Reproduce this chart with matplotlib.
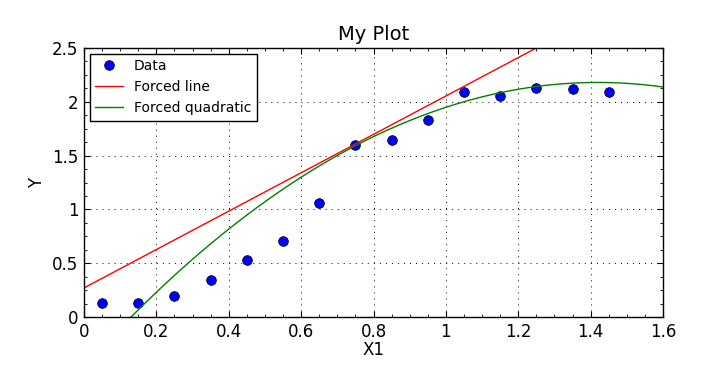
import numpy as np
import matplotlib
matplotlib.use('Agg')
import matplotlib.pyplot as plt
from matplotlib.ticker import MultipleLocator, FormatStrFormatter

# Data
x_data = [0.05, 0.15, 0.25, 0.35, 0.45, 0.55, 0.65, 0.75, 0.85, 0.95, 1.05, 1.15, 1.25, 1.35, 1.45]
y_data = [0.13, 0.13, 0.195, 0.34, 0.53, 0.705, 1.055, 1.60, 1.645, 1.83, 2.09, 2.05, 2.125, 2.115, 2.09]

# Fitted curve coefficients (highest power first), both forced through (0.75, 1.6)
line_coef = [1.784, 0.27]
quad_coef = [-1.31, 3.7204, -0.4615]

x_fit = np.linspace(0, 1.6, 200)

fig = plt.figure(figsize=(7.11, 3.72), dpi=100, facecolor='white')
ax = fig.add_axes([84 / 711, 1 - 317 / 372, (663 - 84) / 711, (317 - 48) / 372])

ax.plot(x_data, y_data, 'o', color='blue', markeredgecolor='black', markeredgewidth=0.5,
        markersize=7, label='Data')
ax.plot(x_fit, np.polyval(line_coef, x_fit), color='red', lw=1, label='Forced line')
ax.plot(x_fit, np.polyval(quad_coef, x_fit), color='green', lw=1, label='Forced quadratic')

ax.set_xlim(0, 1.6)
ax.set_ylim(0, 2.5)
ax.xaxis.set_major_locator(MultipleLocator(0.2))
ax.xaxis.set_minor_locator(MultipleLocator(0.05))
ax.yaxis.set_major_locator(MultipleLocator(0.5))
ax.yaxis.set_minor_locator(MultipleLocator(0.125))
ax.xaxis.set_major_formatter(FormatStrFormatter('%g'))
ax.yaxis.set_major_formatter(FormatStrFormatter('%g'))

ax.tick_params(which='both', direction='in', top=True, right=True, labelsize=12)
ax.tick_params(which='major', length=4, width=0.8, pad=4)
ax.tick_params(which='minor', length=2, width=0.6)
for s in ax.spines.values():
    s.set_linewidth(1)

# sparse dotted grid like the old default
ax.grid(True, which='major', color='black', linestyle=(0, (1, 5.2)), linewidth=0.7)

ax.set_title('My Plot', fontsize=14)
ax.set_xlabel('X1', fontsize=12, labelpad=0)
ax.set_ylabel('Y', fontsize=12)

leg = ax.legend(loc='upper left', fontsize=10, numpoints=1, fancybox=False,
                framealpha=1, edgecolor='black', borderaxespad=0.4)
leg.get_frame().set_linewidth(1)

fig.savefig('out.png', dpi=100, facecolor='white')
